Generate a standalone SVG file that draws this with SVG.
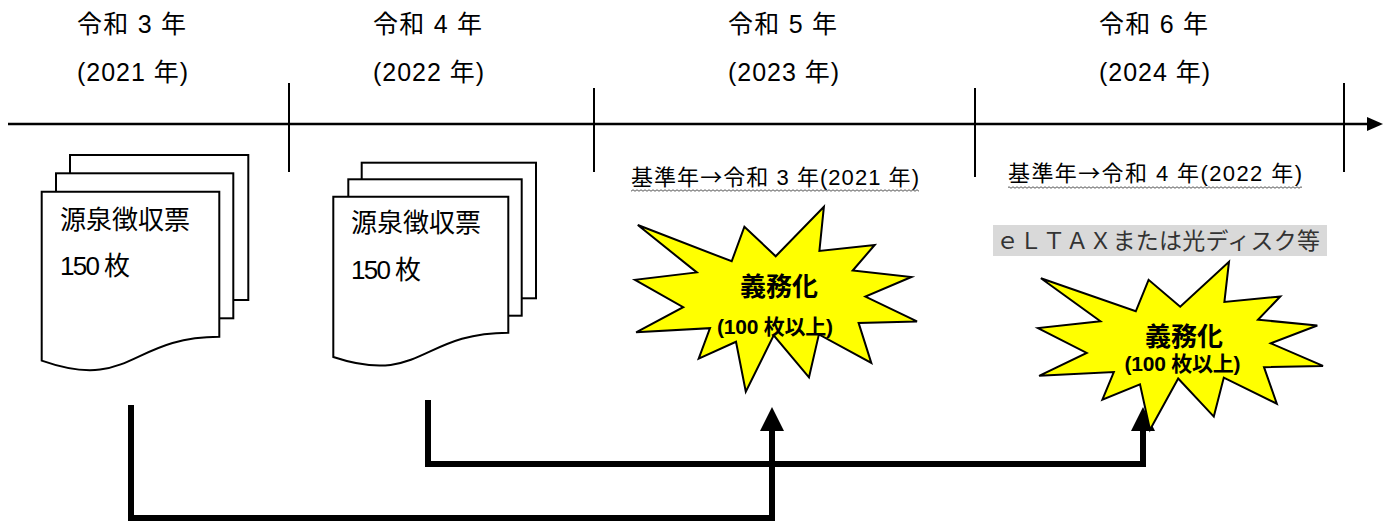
<svg xmlns="http://www.w3.org/2000/svg" width="1391" height="522" viewBox="0 0 1391 522">
<defs>
<style>
text{font-family:"Liberation Sans","Noto Sans CJK JP",sans-serif;fill:#000}
.hd{font-size:25px}
.dt{font-size:26px}
.base{font-size:22px}
.arr{font-family:"Noto Sans CJK JP",sans-serif}
.b1{font-size:26px;font-weight:bold}
.b2{font-size:21px;font-weight:bold}
.doc{fill:#fff;stroke:#000;stroke-width:2}
.burst{fill:#ffff00;stroke:#000;stroke-width:2;stroke-linejoin:miter}
.tick{stroke:#000;stroke-width:2}
.axis{stroke:#000;stroke-width:2.5;fill:none}
.conn{fill:none;stroke:#000;stroke-width:6;stroke-linejoin:miter}
</style>
<marker id="tl" markerUnits="userSpaceOnUse" markerWidth="16" markerHeight="14" viewBox="0 0 16 14" refX="0" refY="7" orient="auto"><path d="M0,0 L16,7 L0,14 Z" fill="#000"/></marker>
<marker id="ah" markerUnits="userSpaceOnUse" markerWidth="24" markerHeight="24" viewBox="0 0 24 24" refX="0" refY="12" orient="auto"><path d="M0,0 L24,12 L0,24 Z" fill="#000"/></marker>
<pattern id="wave" width="4" height="3" patternUnits="userSpaceOnUse"><path d="M0,1.5 Q1,0 2,1.5 T4,1.5" fill="none" stroke="#555" stroke-width="1"/></pattern>
</defs>

<g id="timeline">
<path class="axis" d="M8,124 H1367" marker-end="url(#tl)"/>
<line class="tick" x1="289" y1="83" x2="289" y2="172"/>
<line class="tick" x1="594" y1="88" x2="594" y2="172"/>
<line class="tick" x1="975" y1="88" x2="975" y2="177"/>
<line class="tick" x1="1344" y1="83" x2="1344" y2="172"/>
</g>

<g id="year2021">
<text class="hd" x="77" y="33" textLength="109">令和 3 年</text>
<text class="hd" x="77" y="81" textLength="111">(2021 年)</text>
</g>
<g id="year2022">
<text class="hd" x="373" y="33" textLength="109">令和 4 年</text>
<text class="hd" x="373" y="81" textLength="111">(2022 年)</text>
</g>
<g id="year2023">
<text class="hd" x="728" y="33" textLength="109">令和 5 年</text>
<text class="hd" x="728" y="81" textLength="111">(2023 年)</text>
</g>
<g id="year2024">
<text class="hd" x="1099" y="33" textLength="109">令和 6 年</text>
<text class="hd" x="1099" y="81" textLength="111">(2024 年)</text>
</g>

<g id="connectors">
<path class="conn" d="M131,405 V518 H772 V431" marker-end="url(#ah)"/>
<path class="conn" d="M428,400 V464 H1143 V431" marker-end="url(#ah)"/>
</g>

<g id="doc2021">
<rect class="doc" x="70" y="155" width="178.3" height="145"/>
<rect class="doc" x="56" y="173.3" width="177.3" height="145"/>
<path class="doc" d="M41.7,191.7 H219.3 V336.7 C130.5,336.7 130.5,391.9 41.7,360.6 Z"/>
<text class="dt" x="60" y="229">源泉徴収票</text>
<text class="dt" x="60" y="275" textLength="70">150 枚</text>
</g>

<g id="doc2022">
<rect class="doc" x="361.7" y="162.7" width="174.3" height="135.6"/>
<rect class="doc" x="348.3" y="179.3" width="173.4" height="136.4"/>
<path class="doc" d="M333.3,196.7 H508.3 V332.7 C420.8,332.7 420.8,386 333.3,357 Z"/>
<text class="dt" x="351" y="231.5">源泉徴収票</text>
<text class="dt" x="351" y="279" textLength="70">150 枚</text>
</g>

<g id="base2023">
<text class="base" x="631" y="185" textLength="288">基準年<tspan class="arr">→</tspan>令和 3 年(2021 年)</text>
<rect x="631" y="189" width="288" height="3" fill="url(#wave)"/>
</g>

<g id="base2024">
<text class="base" x="1008" y="181" textLength="294">基準年<tspan class="arr">→</tspan>令和 4 年(2022 年)</text>
<rect x="1008" y="186" width="294" height="3" fill="url(#wave)"/>
</g>

<g id="eltax">
<rect x="993" y="225" width="334" height="31" fill="#d9d9d9"/>
<text x="996" y="249" font-size="23" style="fill:#333" textLength="324">ｅＬＴＡＸまたは光ディスク等</text>
</g>

<g id="burst2023">
<polygon class="burst" points="637.8,225 731.7,261.3 744.4,226.7 775.7,256.3 823.9,206.7 819.4,250.9 874.7,245 852.7,270.5 911.4,277 865.4,296.6 917,321.4 858.6,322.9 871.3,363 818.9,334.4 809,377.3 773.7,335.3 745.8,391.7 736,341.8 698.7,358.6 710,328.2 636.1,332.3 683.2,307.2 635,279.8 696.8,272.4"/>
<text class="b1" x="779" y="296" text-anchor="middle">義務化</text>
<text class="b2" x="775" y="334" text-anchor="middle" textLength="116">(100 枚以上)</text>
</g>

<g id="burst2024">
<polygon class="burst" points="1040.9,278.3 1135.8,311.3 1148.6,279.8 1180.2,306.7 1229,261.7 1224.4,301.9 1280.3,296.5 1258,319.7 1317.3,325.5 1270.8,343.3 1323,365.9 1264,367.2 1276.8,403.7 1223.8,377.6 1213.8,416.6 1178.2,378.5 1150,429.7 1140,384.3 1102.4,399.6 1113.8,372.1 1039.1,375.8 1086.7,352.9 1038,328.1 1100.4,321.3"/>
<text class="b1" x="1184" y="346" text-anchor="middle">義務化</text>
<text class="b2" x="1182.5" y="371" text-anchor="middle" textLength="116">(100 枚以上)</text>
</g>
</svg>
